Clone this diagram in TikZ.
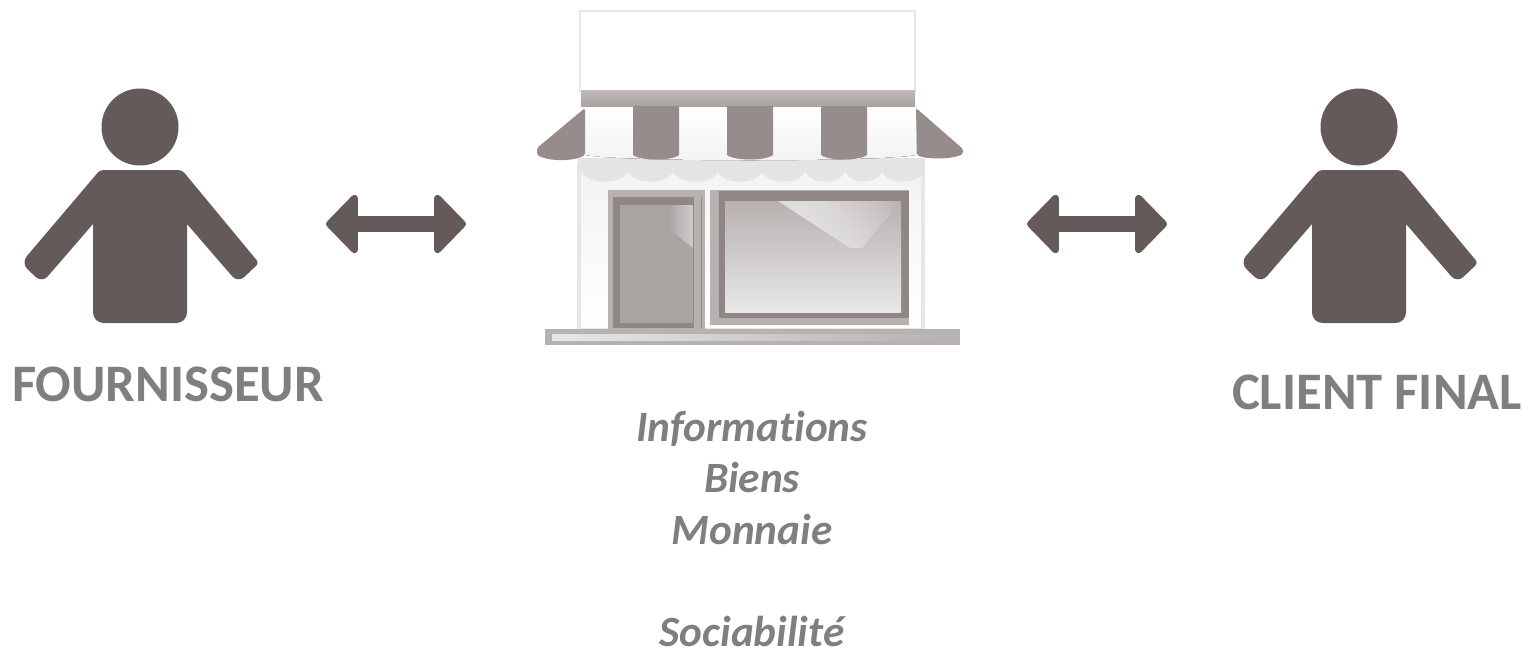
\documentclass[tikz,border=0pt]{standalone}
\usepackage{fontspec}
\setmainfont{Carlito}[Ligatures=NoCommon]
\usetikzlibrary{arrows.meta}
\definecolor{ink}{HTML}{655A5A}
\definecolor{stripe}{HTML}{968C8C}
\definecolor{wallline}{HTML}{E8E7E7}
\definecolor{valance}{HTML}{E5E3E3}
\definecolor{frameout}{HTML}{B7B1B0}
\definecolor{framein}{HTML}{908686}
\definecolor{doorpanel}{HTML}{A9A3A2}
\definecolor{labelgrey}{HTML}{7F7F7F}
\tikzset{person/.pic={
    \fill[ink] (140,127) circle (38.5);
    \fill[ink] [rounded corners=2pt] (100,170) -- (182,170) -- (259,263) [rounded corners=5pt] -- (238,283) [sharp corners] -- (187,224) [rounded corners=6pt] -- (187,323) -- (93,323) [sharp corners] -- (93,224) [rounded corners=5pt] -- (42,283) -- (21,263) [rounded corners=2pt] -- cycle;
}}
\begin{document}
\begin{tikzpicture}[x=0.02cm,y=-0.02cm]
    \tikzstyle{who}=[font=\fontsize{30}{36}\selectfont\bfseries, text=labelgrey, inner sep=0pt]
    \tikzstyle{flows}=[font=\fontsize{24.6}{29.2}\selectfont\bfseries\itshape, text=labelgrey, align=center, inner sep=0pt]
    \tikzstyle{link}=[ink, line width=9.6pt, {Triangle[round,line width=4pt,length=19pt,width=38pt]}-{Triangle[round,line width=4pt,length=19pt,width=38pt]}]
    \tikzstyle{awning}=[fill=stripe, rounded corners=1pt]
    \tikzstyle{glare}=[fill=white, fill opacity=0.05]
    \useasboundingbox (0,0) rectangle (1533,650);
    \pic at (0,0) {person};
    \pic at (1219,0) {person};
    % shop front
    \fill[white, draw=wallline, line width=1pt] (580,11) rectangle (915,91);
    \fill[top color=wallline!50!white, bottom color=white, draw=wallline, line width=2.6pt] (579,165) rectangle (923,330);
    \fill[valance] (578,158) -- (925,158) -- (925,172) .. controls (915,185) and (890,185) .. (882,172) .. controls (875,185) and (852,185) .. (845,172) .. controls (838,185) and (812,185) .. (805,172) .. controls (798,185) and (769,185) .. (762,172) .. controls (755,185) and (725,185) .. (718,172) .. controls (711,185) and (680,185) .. (673,172) .. controls (666,185) and (635,185) .. (628,172) .. controls (620,185) and (590,185) .. (582,172) -- (578,165) -- cycle;
    \fill[top color=white, bottom color=white!95!black] (585,106) -- (916,106) -- (916,155) .. controls (880,162) and (620,162) .. (585,155) -- cycle;
    \fill[top color=frameout!90!white, bottom color=doorpanel] (581,90) rectangle (915,106);
    \foreach \sx in {633,727,821}
        \fill[stripe] (\sx,106) -- (\sx+46,106) -- (\sx+46,155) .. controls (\sx+38,161) and (\sx+8,161) .. (\sx,155) -- cycle;
    \fill[awning] (585,108) -- (585,155) .. controls (575,161) and (550,162) .. (537,155) -- (537,148) -- cycle;
    \fill[awning] (916,108) -- (963,149) -- (963,154) .. controls (950,160) and (925,159) .. (917,155) -- cycle;
    % door
    \fill[frameout] (608,190) rectangle (705,329);
    \fill[framein] (613,197) rectangle (702,328);
    \fill[doorpanel] (620,205) rectangle (693,323);
    \fill[frameout] (694,197) rectangle (701,328);
    \begin{scope}
        \clip (668,228) -- (693,248) -- (693,205) -- (668,205) -- cycle;
        \foreach \gx in {670,672,...,692}
            \fill[glare] (\gx,200) rectangle (694,250);
    \end{scope}
    % window
    \fill[frameout] (710,190) rectangle (909,325);
    \fill[framein] (719,191) rectangle (909,318);
    \fill[top color=frameout, bottom color=wallline] (725,201) rectangle (901,312);
    \begin{scope}
        \clip (778,201) -- (850,248) -- (862,248) -- (901,201) -- cycle;
        \foreach \gx in {805,810,...,900}
            \fill[glare] (770,195) rectangle (\gx,250);
    \end{scope}
    % sill
    \fill[frameout] (545,329) rectangle (960,345);
    \fill[left color=wallline, right color=frameout] (552,334) rectangle (950,340);
    \coordinate (leftA) at (326,224);
    \coordinate (leftB) at (466,224);
    \coordinate (rightA) at (1027,224);
    \coordinate (rightB) at (1167,224);
    \path (leftA) edge [link] (leftB);
    \path (rightA) edge [link] (rightB);
    \node[who] (fournisseur) at (168,384) {FOURNISSEUR};
    \node[who] (client) at (1377,392) {CLIENT FINAL};
    \node[flows] (flux) at (752,529) {Informations\\Biens\\Monnaie\\[29.2pt]Sociabilité};
\end{tikzpicture}
\end{document}
